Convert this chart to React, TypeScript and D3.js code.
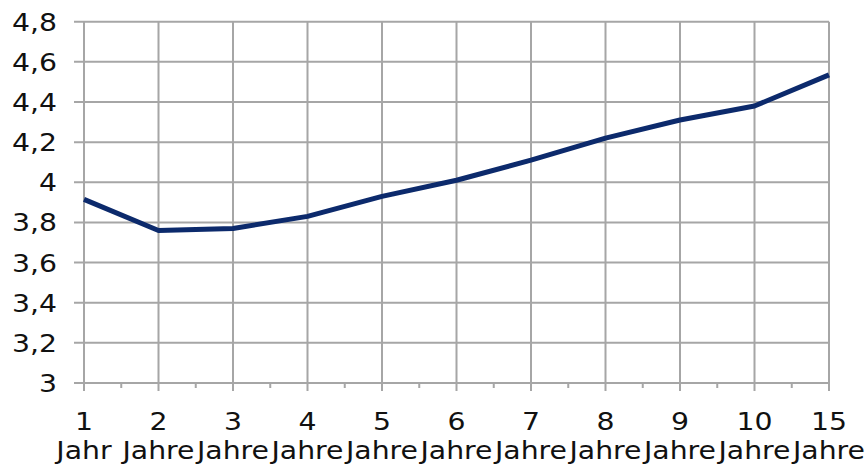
import React, { useEffect, useRef } from 'react';
import * as d3 from 'd3';

// Laufzeit-Kategorien (zweizeilige Beschriftung)
const yearNumbers = ['1', '2', '3', '4', '5', '6', '7', '8', '9', '10', '15'];
const yearWords = ['Jahr', 'Jahre', 'Jahre', 'Jahre', 'Jahre', 'Jahre', 'Jahre', 'Jahre', 'Jahre', 'Jahre', 'Jahre'];
const yieldValues = [3.915, 3.76, 3.77, 3.83, 3.93, 4.01, 4.11, 4.22, 4.31, 4.38, 4.535];
const yTicks = [3, 3.2, 3.4, 3.6, 3.8, 4, 4.2, 4.4, 4.6, 4.8];

const W = 868;
const H = 465;

const App = () => {
  const ref = useRef<SVGSVGElement>(null);

  useEffect(() => {
    const svg = d3.select(ref.current);
    svg.selectAll('*').remove();

    const left = 84, right = 829, top = 21.7, bottom = 383;
    const grid = '#a6a6a6';
    const font = 'DejaVu Sans, Verdana, sans-serif';
    const stretch = 1.18; // the reference font runs wider than DejaVu

    const x = d3.scalePoint<string>().domain(yearNumbers).range([left, right]);
    const y = d3.scaleLinear().domain([3, 4.8]).range([bottom, top]);

    // horizontal grid lines + y labels
    svg.append('g')
      .selectAll('line')
      .data(yTicks)
      .enter()
      .append('line')
      .attr('x1', left - 10)
      .attr('x2', right)
      .attr('y1', d => y(d))
      .attr('y2', d => y(d))
      .attr('stroke', grid)
      .attr('stroke-width', 2);

    svg.append('g')
      .selectAll('text')
      .data(yTicks)
      .enter()
      .append('text')
      .attr('transform', d => `translate(57,${y(d) + 9}) scale(${stretch},1)`)
      .attr('text-anchor', 'end')
      .style('font-family', font)
      .style('font-size', '24px')
      .style('fill', '#111')
      .text(d => d3.format('~g')(d).replace('.', ','));

    // vertical grid lines
    svg.append('g')
      .selectAll('line')
      .data(yearNumbers)
      .enter()
      .append('line')
      .attr('x1', d => x(d)!)
      .attr('x2', d => x(d)!)
      .attr('y1', top)
      .attr('y2', bottom + 8)
      .attr('stroke', grid)
      .attr('stroke-width', 2);

    // minor ticks between categories
    const step = x.step();
    svg.append('g')
      .selectAll('line')
      .data(yearNumbers.slice(0, -1))
      .enter()
      .append('line')
      .attr('x1', d => x(d)! + step / 2)
      .attr('x2', d => x(d)! + step / 2)
      .attr('y1', bottom)
      .attr('y2', bottom + 5)
      .attr('stroke', grid)
      .attr('stroke-width', 2);

    // x labels
    const xl = svg.append('g')
      .selectAll('text')
      .data(yearNumbers)
      .enter()
      .append('text')
      .attr('transform', d => `translate(${x(d)},0) scale(${stretch},1)`)
      .attr('text-anchor', 'middle')
      .style('font-family', font)
      .style('font-size', '24px')
      .style('fill', '#111');
    xl.append('tspan').attr('x', 0).attr('y', 430).text(d => d);
    xl.append('tspan').attr('x', 0).attr('y', 459).text((d, i) => yearWords[i]);

    // yield curve
    const line = d3.line<number>()
      .x((d, i) => x(yearNumbers[i])!)
      .y(d => y(d));
    svg.append('path')
      .datum(yieldValues)
      .attr('d', line)
      .attr('fill', 'none')
      .attr('stroke', '#0c2a6c')
      .attr('stroke-width', 5)
      .attr('stroke-linejoin', 'round');
  }, []);

  return (
    <div style={{ position: 'absolute', left: 0, top: 0 }}>
      <svg ref={ref} width={W} height={H} style={{ display: 'block', background: '#fff' }}></svg>
    </div>
  );
};

export default App;
